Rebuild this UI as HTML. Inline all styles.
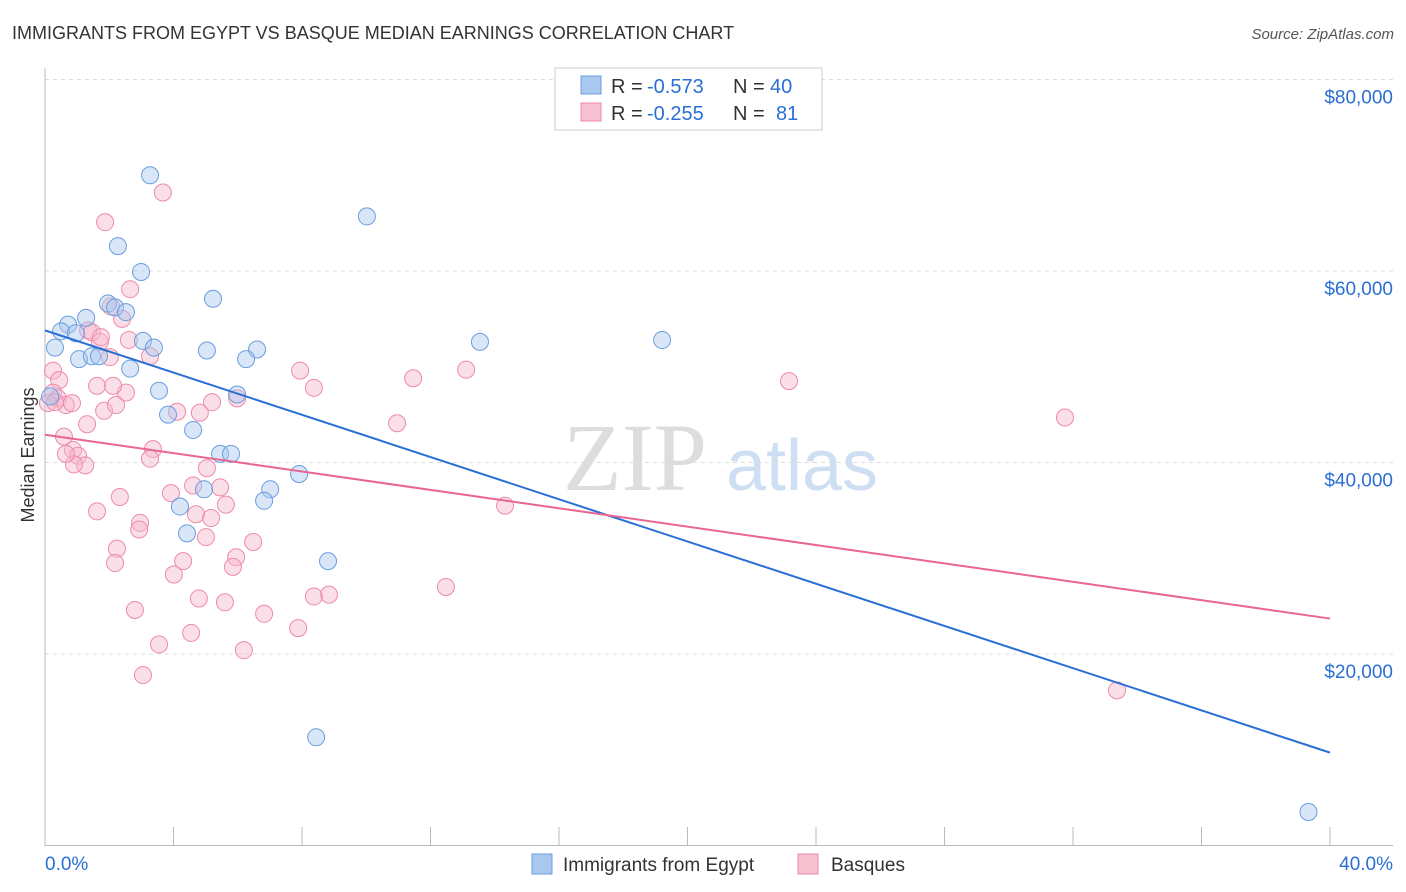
<!DOCTYPE html>
<html><head><meta charset="utf-8"><style>
body{margin:0;background:#fff;font-family:"Liberation Sans",sans-serif}
svg{display:block}
</style></head><body>
<svg id="chart" width="1406" height="892">
<text x="12" y="39" font-size="18" fill="#333">IMMIGRANTS FROM EGYPT VS BASQUE MEDIAN EARNINGS CORRELATION CHART</text>
<text x="1394" y="39" font-size="15" fill="#555" font-style="italic" text-anchor="end">Source: ZipAtlas.com</text>
<g>
<text x="635" y="490" font-size="96" font-family="Liberation Serif,serif" fill="#ddd" text-anchor="middle">ZIP</text>
<text x="802" y="490" font-size="72" fill="#cfdff3" text-anchor="middle">atlas</text>
</g>
<g id="grid"></g>
<g id="axes"></g>
<g id="marks"></g>
<text transform="translate(34,455) rotate(-90)" font-size="18" fill="#333" text-anchor="middle">Median Earnings</text>
<g>
<rect x="555" y="68" width="267" height="62" fill="#fff" stroke="#ccc"/>
<rect x="581" y="76" width="20" height="18" fill="#a9c8f0" stroke="#6a9de0"/>
<rect x="581" y="103" width="20" height="18" fill="#f7c0d0" stroke="#ee8aaa"/>
<text x="611" y="93" font-size="20" fill="#333">R =</text>
<text x="647" y="93" font-size="20" fill="#2a6fd6">-0.573</text>
<text x="733" y="93" font-size="20" fill="#333">N =</text>
<text x="770" y="93" font-size="20" fill="#2a6fd6">40</text>
<text x="611" y="120" font-size="20" fill="#333">R =</text>
<text x="647" y="120" font-size="20" fill="#2a6fd6">-0.255</text>
<text x="733" y="120" font-size="20" fill="#333">N =</text>
<text x="776" y="120" font-size="20" fill="#2a6fd6">81</text>
</g>
<g>
<rect x="532" y="854" width="20" height="20" fill="#a9c8f0" stroke="#6a9de0"/>
<text x="563" y="871" font-size="19" fill="#333">Immigrants from Egypt</text>
<rect x="798" y="854" width="20" height="20" fill="#f7c0d0" stroke="#ee8aaa"/>
<text x="831" y="871" font-size="19" fill="#333">Basques</text>
</g>
</svg>
<script>
const yTicks=[20000,40000,60000,80000];
const yTickLabels=["$20,000","$40,000","$60,000","$80,000"];
const xTickLabels=["0.0%","40.0%"];
const egyptX=[3.27,2.27,2.99,10.02,1.96,2.18,2.52,5.23,1.28,0.72,0.50,0.96,3.05,3.39,5.04,6.60,6.26,13.54,19.21,0.31,1.06,1.46,1.68,2.65,3.55,5.98,3.83,4.61,5.45,5.79,7.91,7.01,4.95,6.82,4.20,4.42,8.81,8.44,39.33,0.16];
const egyptY=[70000,62600,59900,65700,56600,56200,55700,57100,55100,54400,53700,53500,52700,52000,51700,51800,50800,52600,52800,52000,50800,51100,51100,49800,47500,47100,45000,43400,40900,40900,38800,37200,37200,36000,35400,32600,29700,11300,3500,46900];
const basqueX=[3.67,1.87,2.65,2.40,1.34,1.46,1.71,2.61,3.27,2.02,0.25,0.44,0.25,1.62,2.52,2.12,0.40,0.65,0.84,4.11,4.82,5.98,5.20,7.94,8.37,11.46,13.11,23.16,31.75,10.96,1.84,1.31,2.21,0.59,0.87,1.03,1.25,0.90,3.36,3.27,5.04,4.61,5.45,3.92,2.33,5.63,1.62,4.70,5.17,2.96,2.93,14.32,5.01,2.24,6.48,5.95,4.30,2.18,5.85,4.01,12.48,8.84,8.37,4.79,5.60,6.82,2.80,7.88,4.55,3.55,6.19,3.05,33.37,0.09,0.31,1.74,0.65,2.05];
const basqueY=[68200,65100,58100,55000,53800,53600,52600,52800,51100,51000,49600,48600,47300,48000,47300,48000,46700,46000,46200,45300,45200,46700,46300,49600,47800,48800,49700,48500,44700,44100,45400,44000,46000,42700,41300,40700,39700,39800,41400,40400,39400,37600,37400,36800,36400,35600,34900,34600,34200,33700,33000,35500,32200,31000,31700,30100,29700,29500,29100,28300,27000,26200,26000,25800,25400,24200,24600,22700,22200,21000,20400,17800,16200,46200,46300,53100,40900,56300];
const egyptTrend=[53800,9700];
const basqueTrend=[42900,23700];
const X0=45,X1=1330,Y0=845.5,PXY=191.5/20000;
const xs=v=>X0+(v/40)*(X1-X0);
const ys=v=>Y0-v*PXY;
const NS="http://www.w3.org/2000/svg";
function mk(t,a,p){const e=document.createElementNS(NS,t);for(const k in a)e.setAttribute(k,a[k]);p.appendChild(e);return e;}
const grid=document.getElementById('grid'),axes=document.getElementById('axes'),marks=document.getElementById('marks');
yTicks.forEach((v,i)=>{
 const l=mk('line',{x1:45,x2:1393,y1:ys(v),y2:ys(v),stroke:'#ddd','stroke-dasharray':'4,4'},grid);
 
 
 const t=mk('text',{x:1393,y:ys(v)+24,'font-size':19,fill:'#2a6fd6','text-anchor':'end'},axes);
 t.textContent=yTickLabels[i];
 
 
});
mk('line',{x1:45,x2:45,y1:68,y2:846,stroke:'#bbb'},axes);
mk('line',{x1:45,x2:1393,y1:845.5,y2:845.5,stroke:'#bbb'},axes);
for(let i=0;i<=10;i++){const x=xs(i*4);const tk=mk('line',{x1:x,x2:x,y1:827,y2:846,stroke:'#bbb'},axes);
 
 }
const tl=mk('text',{x:45,y:870,'font-size':19,fill:'#2a6fd6'},axes);tl.textContent=xTickLabels[0];


const tr=mk('text',{x:1393,y:870,'font-size':19,fill:'#2a6fd6','text-anchor':'end'},axes);tr.textContent=xTickLabels[1];


basqueX.forEach((v,i)=>{const c=mk('circle',{cx:xs(v),cy:ys(basqueY[i]),r:8.5,fill:'rgba(247,184,203,0.45)',stroke:'#ee8aaa','stroke-width':1},marks);
 
 });
egyptX.forEach((v,i)=>{const c=mk('circle',{cx:xs(v),cy:ys(egyptY[i]),r:8.5,fill:'rgba(169,200,240,0.45)',stroke:'#6a9de0','stroke-width':1},marks);
 
 });
const bl=mk('line',{x1:xs(0),y1:ys(egyptTrend[0]),x2:xs(40),y2:ys(egyptTrend[1]),stroke:'#2a6fd6','stroke-width':2},marks);


const pl=mk('line',{x1:xs(0),y1:ys(basqueTrend[0]),x2:xs(40),y2:ys(basqueTrend[1]),stroke:'#e8668f','stroke-width':2},marks);


</script>
</body></html>
